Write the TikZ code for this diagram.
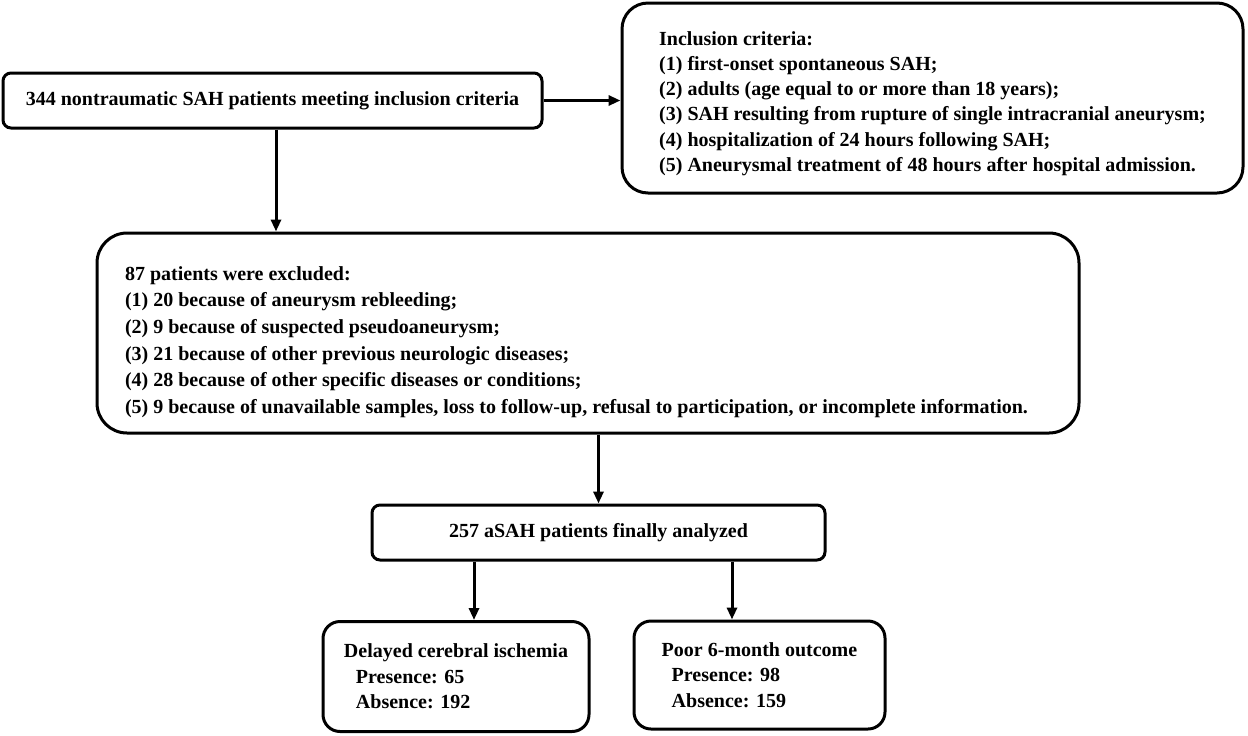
\documentclass[tikz,border=0pt]{standalone}
\usepackage{fontspec}
\setmainfont{Liberation Serif}
\usetikzlibrary{arrows.meta}

\begin{document}
\begin{tikzpicture}[x=0.5pt,y=-0.5pt]
\tikzset{box/.style = {draw, line width=1.5pt, font=\bfseries\fontsize{10}{12.7}\selectfont, inner ysep=0pt}}
\tikzset{listbox/.style = {box, align=left}}
\tikzset{edge/.style = {-{Triangle[length=6pt,width=5pt]}, line width=1.5pt}}
\useasboundingbox (0,0) rectangle (1248,735);
% boxes
\node[box, rounded corners=4pt, minimum width=269.5pt, minimum height=27.5pt] (total) at (272.5,100.5)
  {344 nontraumatic SAH patients meeting inclusion criteria};
\node[listbox, rounded corners=13pt, minimum width=310.5pt, minimum height=95pt,
      font=\bfseries\fontsize{10}{12.6}\selectfont, text height=75.5pt, text depth=2.2pt] (incl) at (932.5,98)
  {Inclusion criteria:\\
   (1) first-onset spontaneous SAH;\\
   (2) adults (age equal to or more than 18 years);\\
   (3) SAH resulting from rupture of single intracranial aneurysm;\hspace*{3pt}\\
   (4) hospitalization of 24 hours following SAH;\\
   (5) Aneurysmal treatment of 48 hours after hospital admission.};
\node[listbox, rounded corners=15pt, minimum width=491pt, minimum height=100pt,
      font=\bfseries\fontsize{10}{13.3}\selectfont, text height=82.5pt, text depth=2.2pt] (excl) at (588,333)
  {87 patients were excluded:\\
   (1) 20 because of aneurysm rebleeding;\\
   (2) 9 because of suspected pseudoaneurysm;\\
   (3) 21 because of other previous neurologic diseases;\\
   (4) 28 because of other specific diseases or conditions;\\
   (5) 9 because of unavailable samples, loss to follow-up, refusal to participation, or incomplete information.\hspace*{11.5pt}};
\node[box, rounded corners=4pt, minimum width=226.5pt, minimum height=27.5pt] (final) at (598.5,532.5)
  {257 aSAH patients finally analyzed};
\node[listbox, rounded corners=8.5pt, minimum width=133pt, minimum height=55pt] (dci) at (456,676.5)
  {Delayed cerebral ischemia\\
   \hspace*{6pt}Presence: 65\\
   \hspace*{6pt}Absence: 192};
\node[listbox, rounded corners=8.5pt, minimum width=125.5pt, minimum height=54pt] (poor) at (759.5,675)
  {Poor 6-month outcome\\
   \hspace*{5pt}Presence: 98\\
   \hspace*{5pt}Absence: 159};
% edges
\draw[edge] (total.east) -- (total.east -| incl.west);
\draw[edge] ([xshift=1.75pt]total.south) -- ([xshift=1.75pt]total.south |- excl.north);
\draw[edge] (final.north |- excl.south) -- (final.north);
\draw[edge] ([xshift=-62.25pt]final.south) -- ([xshift=-62.25pt]final.south |- dci.north);
\draw[edge] ([xshift=66.75pt]final.south) -- ([xshift=66.75pt]final.south |- poor.north);
\end{tikzpicture}
\end{document}
